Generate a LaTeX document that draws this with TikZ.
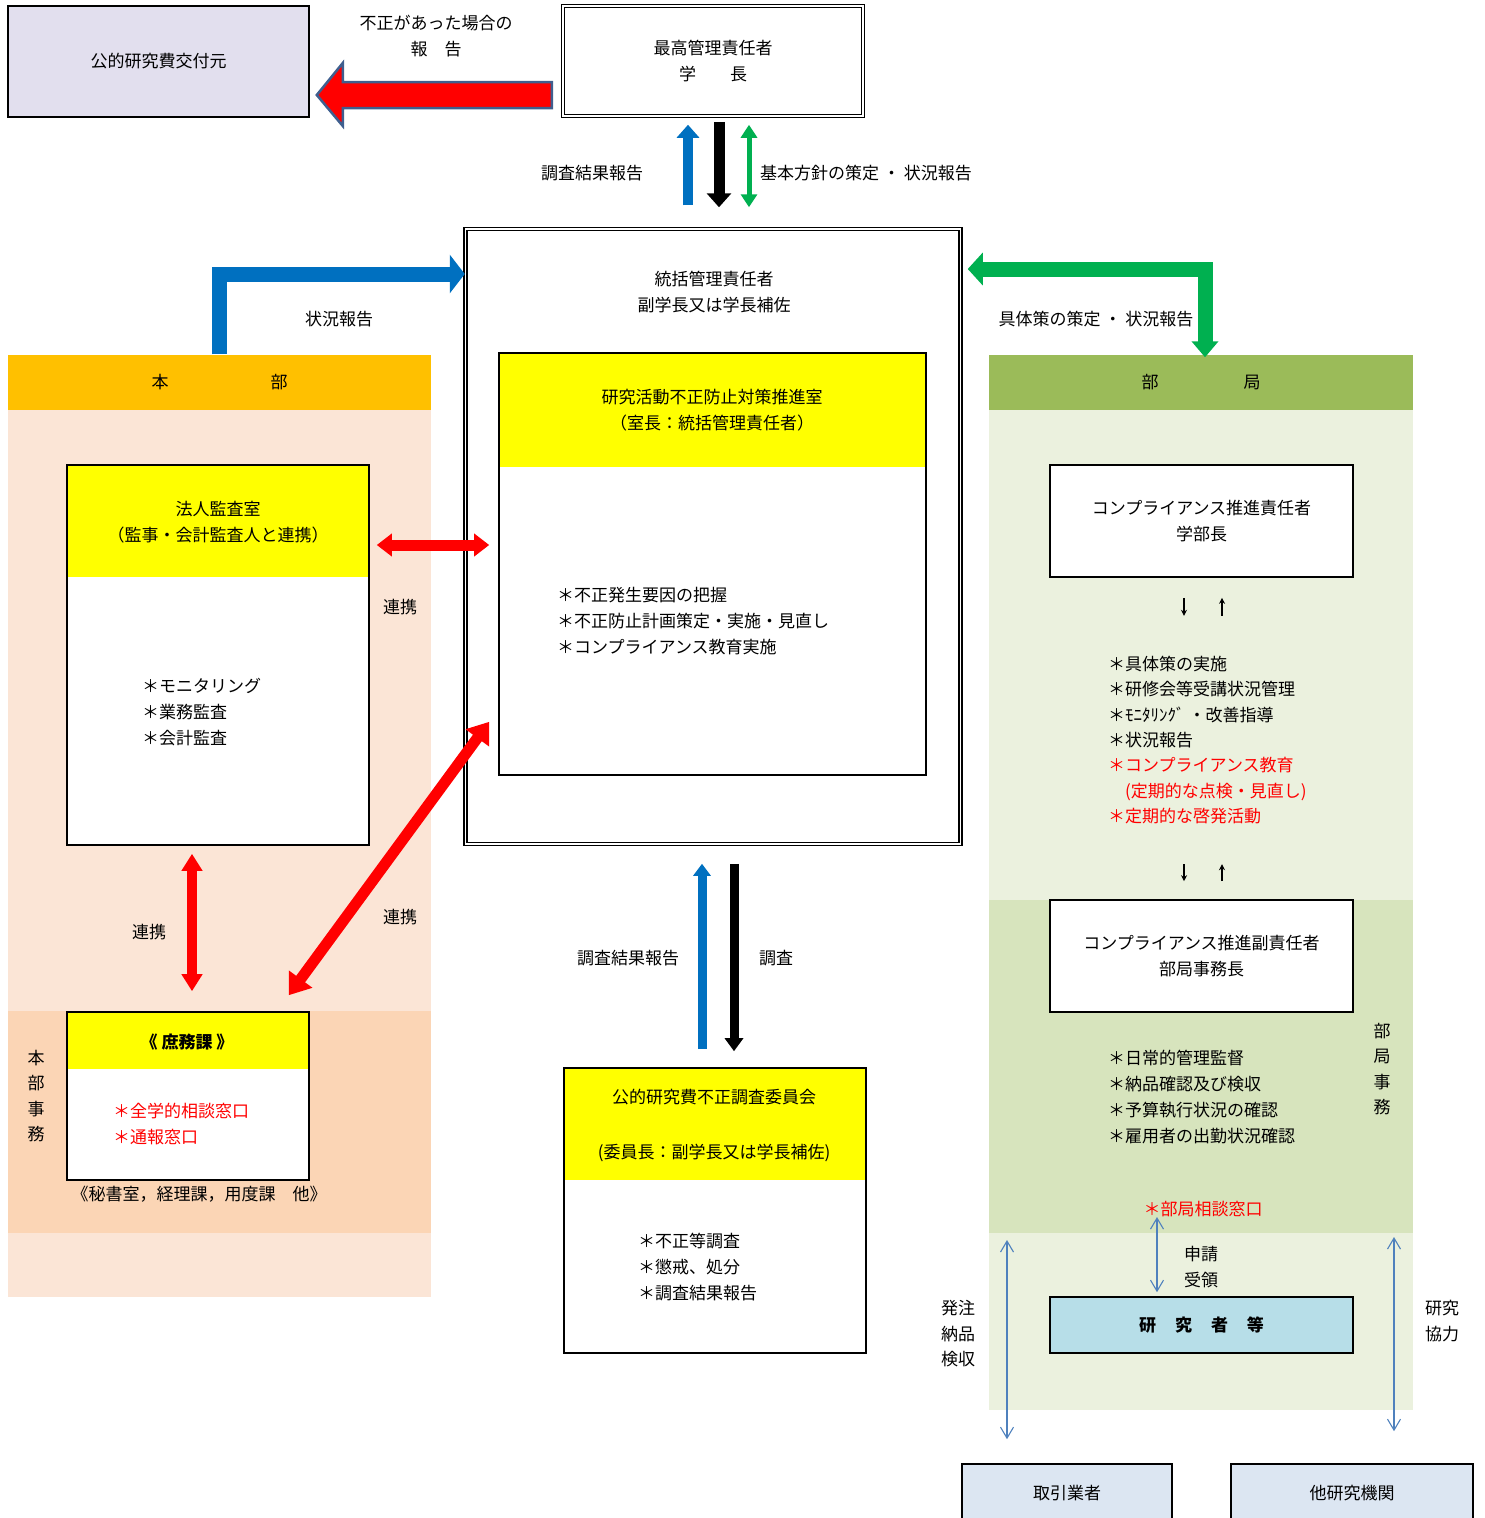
\documentclass[tikz,border=0pt]{standalone}
\usepackage{fontspec}
\setmainfont{Noto Sans CJK JP}
\usetikzlibrary{arrows.meta,calc}

\definecolor{kofu}{HTML}{E2DFEE}
\definecolor{arrbd}{HTML}{3F5F8F}
\definecolor{rep}{HTML}{0070C0}
\definecolor{pol}{HTML}{00B050}
\definecolor{hbhead}{HTML}{FFC000}
\definecolor{hbbody}{HTML}{FBE5D6}
\definecolor{hbdark}{HTML}{FBD5B5}
\definecolor{bkhead}{HTML}{9BBB59}
\definecolor{bkbody}{HTML}{EBF1DE}
\definecolor{bkdark}{HTML}{D7E4BD}
\definecolor{hl}{HTML}{FFFF00}
\definecolor{res}{HTML}{B7DEE8}
\definecolor{ext}{HTML}{DCE6F2}
\definecolor{tblue}{HTML}{4F81BD}

\newcommand{\jpfs}{\fontsize{17}{26}\selectfont}

\begin{document}
\begin{tikzpicture}[x=1pt, y=-1pt, font=\jpfs,
 box/.style={draw, line width=1.6pt, inner sep=0pt},
 dbox/.style={draw, line width=1.5pt, double, double distance=1.8pt, inner sep=0pt},
 headed/.style={box, fill=white, path picture={\fill[hl] (path picture bounding box.north west) rectangle ([yshift=-#1]path picture bounding box.north east);}},
 fat/.style={line width=#1},
 txt/.style={inner sep=0pt, align=center},
 lst/.style={inner sep=0pt, align=left, anchor=west},
 thinarr/.style={draw=tblue, line width=1.1pt, {Straight Barb[length=11pt,width=13pt]}-{Straight Barb[length=11pt,width=13pt]}},
 tick/.style={line width=1.1pt, -{Stealth[length=6pt,width=6pt]}}]

\clip (0,0) rectangle (1485,1518);

% bands
\fill[hbbody] (8,408) rectangle (431,1297);
\fill[hbdark] (8,1011) rectangle (431,1233);
\fill[bkbody] (989,408) rectangle (1413,1410);
\fill[bkdark] (989,900) rectangle (1413,1233);
\node[fill=hbhead, minimum width=423, minimum height=55, inner sep=0pt] (honbu) at (219.5,382) {本\hspace{102pt}部};
\node[fill=bkhead, minimum width=424, minimum height=55, inner sep=0pt] (bukyoku) at (1201,382) {部\hspace{85pt}局};

% top
\node[box, fill=kofu, minimum width=301, minimum height=111] (kofu) at (158.5,61.5) {公的研究費交付元};
\node[dbox, minimum width=300, minimum height=110, align=center] (saikou) at (713,61) {最高管理責任者\\学　　長};
\node[txt] (lFusei) at (436,36) {不正があった場合の\\報　告};

% center
\node[dbox, minimum width=495, minimum height=615] (toukatsu) at (713,536.5) {};
\node[txt] (toukatsuT) at (714,292) {統括管理責任者\\副学長又は学長補佐};
\node[headed=114pt, minimum width=427, minimum height=422] (suishin) at (712.5,564) {};
\node[txt] (suishinT) at (712,410) {研究活動不正防止対策推進室\\（室長：統括管理責任者）};
\node[lst] (suishinL) at (557,621) {＊不正発生要因の把握\\＊不正防止計画策定・実施・見直し\\＊コンプライアンス教育実施};

\node[headed=112pt, minimum width=302, minimum height=285] (iinkai) at (715,1210.5) {};
\node[txt] (iinkaiT) at (714,1097) {公的研究費不正調査委員会};
\node[txt] (iinkaiS) at (714,1153) {(委員長：副学長又は学長補佐)};
\node[lst] (iinkaiL) at (638,1267) {＊不正等調査\\＊懲戒、処分\\＊調査結果報告};

% left
\node[headed=112pt, minimum width=302, minimum height=380] (kansa) at (218,655) {};
\node[txt] (kansaT) at (218,522) {法人監査室\\（監事・会計監査人と連携）};
\node[lst] (kansaL) at (142,712) {＊モニタリング\\＊業務監査\\＊会計監査};

\node[headed=57pt, minimum width=242, minimum height=168] (shomu) at (188,1096) {};
\node[txt, font=\jpfs\bfseries] (shomuT) at (187,1042) {《 庶務課 》};
\node[lst, text=red] (shomuL) at (113,1124) {＊全学的相談窓口\\＊通報窓口};
\node[txt] (shomuC) at (199,1194) {《秘書室，経理課，用度課　他》};
\node[txt, font=\fontsize{17}{25.3}\selectfont] (honbuJ) at (36,1096) {本\\部\\事\\務};

% right
\node[box, fill=white, minimum width=303, minimum height=112, align=center] (comp1) at (1201.5,521) {コンプライアンス推進責任者\\学部長};
\node[lst, font=\fontsize{17}{25.3}\selectfont] (comp1L) at (1108,740) {＊具体策の実施\\＊研修会等受講状況管理\\＊ﾓﾆﾀﾘﾝｸﾞ ・改善指導\\＊状況報告\\\textcolor{red}{＊コンプライアンス教育}\\\textcolor{red}{\hspace{17pt}(定期的な点検・見直し)}\\\textcolor{red}{＊定期的な啓発活動}};
\node[box, fill=white, minimum width=303, minimum height=112, align=center] (comp2) at (1201.5,956) {コンプライアンス推進副責任者\\部局事務長};
\node[lst, font=\fontsize{17}{25.7}\selectfont] (comp2L) at (1108,1097) {＊日常的管理監督\\＊納品確認及び検収\\＊予算執行状況の確認\\＊雇用者の出勤状況確認};
\node[txt, text=red] (bmado) at (1203,1209) {＊部局相談窓口};
\node[txt, font=\fontsize{17}{25.3}\selectfont] (bukyokuJ) at (1382,1069) {部\\局\\事\\務};
\node[box, fill=res, minimum width=303, minimum height=56, font=\jpfs\bfseries] (kenkyu) at (1201.5,1325) {研\hspace{19pt}究\hspace{19pt}者\hspace{19pt}等};
\node[box, fill=ext, minimum width=210, minimum height=58] (torihiki) at (1067,1493) {取引業者};
\node[box, fill=ext, minimum width=242, minimum height=58] (tahoka) at (1352,1493) {他研究機関};

% labels
\node[txt] (lChosa1) at (592,173) {調査結果報告};
\node[txt, anchor=west] (lKihon) at (760,173) {基本方針の策定 ・ 状況報告};
\node[txt] (lJokyo) at (339,319) {状況報告};
\node[txt] (lGutai) at (1096,319) {具体策の策定 ・ 状況報告};
\node[txt] (lRen1) at (400,607) {連携};
\node[txt] (lRen2) at (149,932) {連携};
\node[txt] (lRen3) at (400,917) {連携};
\node[txt] (lChosa2) at (628,958) {調査結果報告};
\node[txt] (lChosa3) at (776,958) {調査};
\node[txt] (lShinsei) at (1201,1267) {申請\\受領};
\node[txt, font=\fontsize{17}{25.5}\selectfont] (lHatchu) at (958,1334) {発注\\納品\\検収};
\node[txt] (lKyoryoku) at (1442,1321) {研究\\協力};

% red report arrow
\coordinate (rfTip) at ([xshift=7pt,yshift=-33.5pt]kofu.east);
\draw[draw=arrbd, fill=red, line width=2.5pt, shift={(rfTip)}]
  (0,0) -- (26,-32) -- (26,-13) -- (235,-13) -- (235,13) -- (26,13) -- (26,31) -- cycle;

% saikou <-> toukatsu
\draw[rep, fat=10pt, -{Triangle[length=13pt,width=22pt]}] ([xshift=-25pt,yshift=23pt]toukatsu.north) -- ([xshift=-25pt,yshift=-8pt]saikou.south);
\draw[black, fat=11pt, -{Triangle[length=14pt,width=24pt]}] ([xshift=6pt,yshift=-5pt]saikou.south) -- ([xshift=6pt,yshift=21pt]toukatsu.north);
\draw[pol, fat=5pt, {Triangle[length=13pt,width=16pt]}-{Triangle[length=13pt,width=16pt]}] ([xshift=36pt,yshift=-8pt]saikou.south) -- ([xshift=36pt,yshift=21pt]toukatsu.north);

% elbows
\draw[rep, fat=15pt, -{Triangle[length=15pt,width=38pt]}] (honbu.north) |- ([yshift=262.5pt]toukatsu.west);
\draw[pol, fat=15pt, {Triangle[length=15pt,width=32pt]}-{Triangle[length=16pt,width=26pt]}] ([xshift=6.5pt,yshift=267.5pt]toukatsu.east) -| ([xshift=4pt,yshift=-3pt]bukyoku.north);

% red links
\draw[red, fat=11pt, {Triangle[length=15pt,width=22pt]}-{Triangle[length=15pt,width=22pt]}] ([xshift=7pt,yshift=110pt]kansa.east) -- ([xshift=-9pt,yshift=19pt]suishin.west);
\draw[red, fat=10pt, {Triangle[length=17pt,width=20pt]}-{Triangle[length=17pt,width=20pt]}] ([xshift=-26pt,yshift=-8pt]kansa.south) -- ([xshift=4pt,yshift=20pt]shomu.north);
\draw[red, fat=11pt, {Triangle[length=20pt,width=28pt]}-{Triangle[length=20pt,width=28pt]}] ([xshift=-21pt,yshift=16pt]shomu.north east) -- ([xshift=-9pt,yshift=54pt]suishin.south west);

% toukatsu <-> iinkai
\draw[rep, fat=9pt, -{Triangle[length=12pt,width=17pt]}] ([xshift=-13pt,yshift=18pt]iinkai.north) -- ([xshift=-11pt,yshift=-19pt]toukatsu.south);
\draw[black, fat=9pt, -{Triangle[length=13pt,width=18pt]}] ([xshift=21pt,yshift=-19pt]toukatsu.south) -- ([xshift=19pt,yshift=16pt]iinkai.north);

% small ticks
\draw[tick] ([xshift=-17.5pt,yshift=-20pt]comp1.south) -- ([xshift=-17.5pt,yshift=-38pt]comp1.south);
\draw[tick] ([xshift=20.5pt,yshift=-38pt]comp1.south) -- ([xshift=20.5pt,yshift=-20pt]comp1.south);
\draw[tick] ([xshift=-17.5pt,yshift=35pt]comp2.north) -- ([xshift=-17.5pt,yshift=18pt]comp2.north);
\draw[tick] ([xshift=20.5pt,yshift=18pt]comp2.north) -- ([xshift=20.5pt,yshift=35pt]comp2.north);

% thin blue
\coordinate (hatchuTop) at (1007,1240);
\coordinate (kyoryokuTop) at (1394,1237);
\draw[thinarr] ([xshift=-46pt]bmado.south) -- ([xshift=-44.5pt,yshift=4pt]kenkyu.north);
\draw[thinarr] (hatchuTop) -- ([xshift=-60pt,yshift=24pt]torihiki.north);
\draw[thinarr] (kyoryokuTop) -- ([xshift=42pt,yshift=32pt]tahoka.north);

\end{tikzpicture}
\end{document}
